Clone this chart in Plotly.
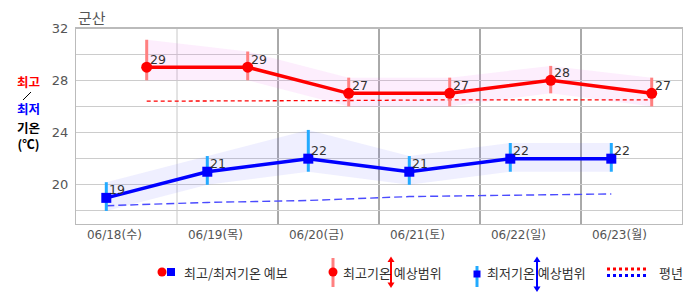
import plotly.graph_objects as go

# ---- data ----
dates = ["06/18(수)", "06/19(목)", "06/20(금)", "06/21(토)", "06/22(일)", "06/23(월)"]
high = [29, 29, 27, 27, 28, 27]
high_lo = [28, 28, 26, 26, 27, 26]
high_hi = [31.1, 30.2, 28.2, 28.2, 29.1, 28.2]
low = [19, 21, 22, 21, 22, 22]
low_lo = [18, 20, 21, 20, 21, 21]
low_hi = [20.2, 22.2, 24.2, 22.2, 23.2, 23.2]
high_normal = [26.4, 26.4, 26.45, 26.5, 26.5, 26.5]
low_normal = [18.4, 18.65, 18.8, 19.1, 19.2, 19.3]
y_ticks = [20, 24, 28, 32]

# positions within each day slot (day units)
n = len(dates)
xl = [i + 0.3 for i in range(n)]   # morning low
xh = [i + 0.7 for i in range(n)]   # afternoon high
xt = [i + 0.38 for i in range(n)]  # tick label positions

FONT = "DejaVu Sans, Noto Sans CJK KR, sans-serif"
KFONT = "Noto Sans CJK KR, DejaVu Sans, sans-serif"

fig = go.Figure()

# bands
fig.add_trace(go.Scatter(x=xh + xh[::-1], y=high_hi + high_lo[::-1], fill="toself",
                         fillcolor="rgba(240,100,240,0.11)", line=dict(width=0),
                         mode="lines", hoverinfo="skip", showlegend=False))
fig.add_trace(go.Scatter(x=xl + xl[::-1], y=low_hi + low_lo[::-1], fill="toself",
                         fillcolor="rgba(100,100,255,0.10)", line=dict(width=0),
                         mode="lines", hoverinfo="skip", showlegend=False))

# normals
fig.add_trace(go.Scatter(x=xh, y=high_normal, mode="lines",
                         line=dict(color="#ff0000", width=1.3, dash="4px,3px"),
                         hoverinfo="skip", showlegend=False))
fig.add_trace(go.Scatter(x=xl, y=low_normal, mode="lines",
                         line=dict(color="#4b4bff", width=1.4, dash="8px,4px"),
                         hoverinfo="skip", showlegend=False))

# range bars
def bars(xs, lo, hi):
    bx, by = [], []
    for x, a, b in zip(xs, lo, hi):
        bx += [x, x, None]
        by += [a, b, None]
    return bx, by

bx, by = bars(xh, high_lo, high_hi)
fig.add_trace(go.Scatter(x=bx, y=by, mode="lines", line=dict(color="#ff8080", width=3),
                         hoverinfo="skip", showlegend=False))
bx, by = bars(xl, low_lo, low_hi)
fig.add_trace(go.Scatter(x=bx, y=by, mode="lines", line=dict(color="#22aaff", width=3),
                         hoverinfo="skip", showlegend=False))

# main lines
fig.add_trace(go.Scatter(x=xh, y=high, mode="lines+markers",
                         line=dict(color="#ff0000", width=3.5),
                         marker=dict(symbol="circle", size=11, color="#ff0000"),
                         showlegend=False))
fig.add_trace(go.Scatter(x=xl, y=low, mode="lines+markers",
                         line=dict(color="#0000ff", width=3.5),
                         marker=dict(symbol="square", size=10, color="#0000ff"),
                         showlegend=False))

annotations = []
# value labels next to markers
for xs, vs in ((xh, high), (xl, low)):
    for x, v in zip(xs, vs):
        annotations.append(dict(text=str(v), x=x, y=v, xref="x", yref="y",
                                xanchor="left", yanchor="middle", xshift=1, yshift=8,
                                showarrow=False,
                                font=dict(family=FONT, size=12.5, color="#333")))

# pixel helpers for paper coordinates
L, R, T, B = 76, 682, 28, 224
def X(px):
    return (px - L) / (R - L)
def Y(py):
    return (B - py) / (B - T)

shapes = []
# vertical day separators
for d in range(1, n):
    shapes.append(dict(type="line", xref="x", yref="paper", x0=d, x1=d, y0=0, y1=1,
                       line=dict(color="#c8c8c8" if d == 1 else "#555555", width=1),
                       layer="below"))
# top border
shapes.append(dict(type="line", xref="paper", yref="paper", x0=0, x1=1, y0=1, y1=1,
                   line=dict(color="#bbbbbb", width=2)))
# thin slash between the axis title words
shapes.append(dict(type="line", xref="paper", yref="paper", x0=X(23), x1=X(31),
                   y0=Y(100), y1=Y(92), line=dict(color="#000", width=1)))

# legend shapes
def circle(cx, cy, r, color):
    return dict(type="circle", xref="paper", yref="paper",
                x0=X(cx - r), x1=X(cx + r), y0=Y(cy + r), y1=Y(cy - r),
                fillcolor=color, line=dict(width=0))
def rect(cx, cy, h, color):
    return dict(type="rect", xref="paper", yref="paper",
                x0=X(cx - h), x1=X(cx + h), y0=Y(cy + h), y1=Y(cy - h),
                fillcolor=color, line=dict(width=0))
def vline(x, y0, y1, color, w):
    return dict(type="line", xref="paper", yref="paper", x0=X(x), x1=X(x),
                y0=Y(y0), y1=Y(y1), line=dict(color=color, width=w))
def arrow(x, y0, y1, color):
    out = [vline(x, y0 + 4, y1 - 4, color, 2)]
    up = f"M {X(x)} {Y(y0)} L {X(x-3.5)} {Y(y0+5.5)} L {X(x+3.5)} {Y(y0+5.5)} Z"
    dn = f"M {X(x)} {Y(y1)} L {X(x-3.5)} {Y(y1-5.5)} L {X(x+3.5)} {Y(y1-5.5)} Z"
    for p in (up, dn):
        out.append(dict(type="path", xref="paper", yref="paper", path=p,
                        fillcolor=color, line=dict(width=0)))
    return out

shapes.append(circle(162, 272, 4.5, "#ff0000"))
shapes.append(rect(171, 272, 4, "#0000ff"))
shapes.append(vline(333, 258, 287, "#ff8080", 3))
shapes.append(circle(333, 272, 4.5, "#ff0000"))
shapes += arrow(391, 256.5, 288, "#ff0000")
shapes.append(vline(477, 266, 287, "#22aaff", 3))
shapes.append(rect(477, 274, 3.5, "#0000ff"))
shapes += arrow(537, 256.5, 292, "#0000ff")
shapes.append(dict(type="line", xref="paper", yref="paper", x0=X(607), x1=X(648),
                   y0=Y(269), y1=Y(269), line=dict(color="#ff0000", width=3, dash="3px,3px")))
shapes.append(dict(type="line", xref="paper", yref="paper", x0=X(607), x1=X(648),
                   y0=Y(275.5), y1=Y(275.5), line=dict(color="#0000ff", width=3, dash="3px,3px")))

def ann(text, px, py, size=13, color="#333", xanchor="left", family=KFONT):
    annotations.append(dict(text=text, xref="paper", yref="paper", x=X(px), y=Y(py),
                            xanchor=xanchor, yanchor="middle", showarrow=False,
                            font=dict(family=family, size=size, color=color)))

ann("군산", 76, 17, size=15, color="#555")
ann("<b>최고</b>", 28, 81, size=12.5, color="#ff0000", xanchor="center")
ann("<b>최저</b>", 28, 109, size=12.5, color="#0000ff", xanchor="center")
ann("<b>기온<br>(℃)</b>", 28, 135, size=12.5, color="#000", xanchor="center")
ann("최고/최저기온 예보", 182, 272)
ann("최고기온 예상범위", 341, 272)
ann("최저기온 예상범위", 485, 272)
ann("평년", 657, 272)

fig.update_layout(
    width=686, height=295,
    margin=dict(l=L, r=686 - R, t=T, b=295 - B),
    paper_bgcolor="white", plot_bgcolor="white",
    shapes=shapes, annotations=annotations,
    font=dict(family=FONT, size=12, color="#555"),
    xaxis=dict(range=[0, n], tickvals=xt, ticktext=dates, showgrid=False,
               zeroline=False, showline=True, linecolor="#bbbbbb", mirror=True,
               ticks="", tickfont=dict(family=FONT, size=12, color="#555")),
    yaxis=dict(range=[17, 32], tickvals=y_ticks, showgrid=True, gridcolor="#cccccc",
               minor=dict(dtick=2, tick0=0, showgrid=True, gridcolor="#cccccc"),
               zeroline=False, showline=True, linecolor="#bbbbbb", mirror=True,
               ticks="", ticklabelstandoff=4,
               tickfont=dict(family=FONT, size=13, color="#555")),
)

fig.write_html("out.html", config={"displayModeBar": False},
               post_script="document.body.style.margin='0';document.body.style.overflow='hidden';")
